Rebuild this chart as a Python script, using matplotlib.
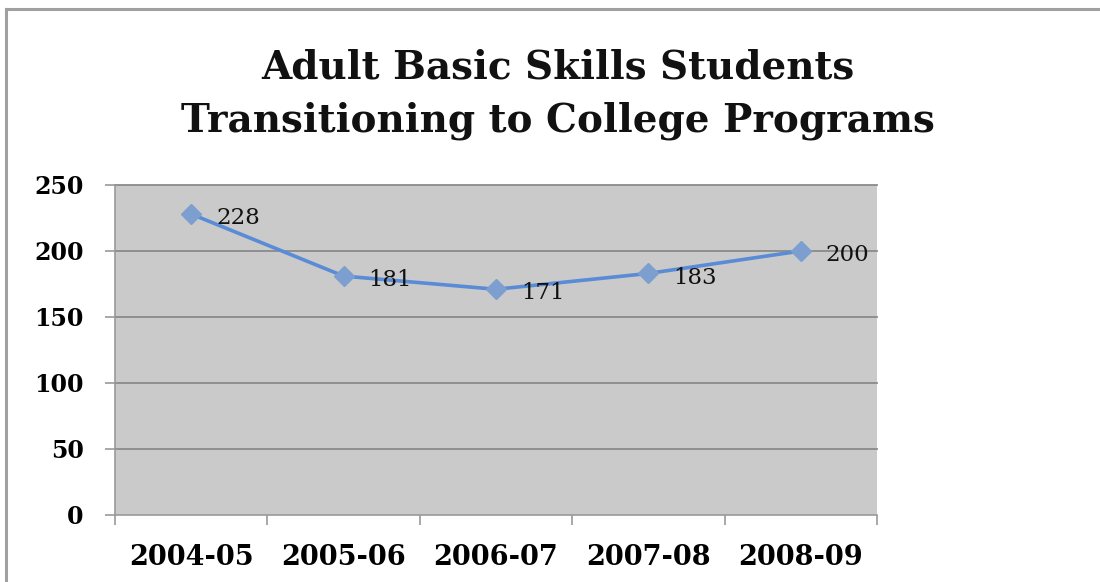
import matplotlib
matplotlib.use("Agg")
import matplotlib.pyplot as plt
from matplotlib.lines import Line2D

categories = ["2004-05", "2005-06", "2006-07", "2007-08", "2008-09"]
values = [228, 181, 171, 183, 200]
yticks = [0, 50, 100, 150, 200, 250]
title = "Adult Basic Skills Students\nTransitioning to College Programs"

W, H = 1100, 582
fig = plt.figure(figsize=(W / 100, H / 100), dpi=100)
fig.patch.set_facecolor("white")

# outer chart frame (top and left edges visible)
fig.add_artist(Line2D([6 / W, 6 / W], [0, 1 - 9 / H], color="#a0a0a0", lw=2.2, transform=fig.transFigure))
fig.add_artist(Line2D([6 / W, 1], [1 - 9 / H, 1 - 9 / H], color="#a0a0a0", lw=2.2, transform=fig.transFigure))

L, R, T, B = 115, 877, 185, 515
ax = fig.add_axes([L / W, 1 - B / H, (R - L) / W, (B - T) / H])
ax.set_facecolor("#cacaca")

x = list(range(len(categories)))
ax.set_xlim(-0.5, len(categories) - 0.5)
ax.set_ylim(0, 250)

for yv in yticks[1:]:
    ax.axhline(yv, color="#8a8a8a", lw=1.3, zorder=1, clip_on=False)

ax.plot(x, values, color="#5a8bd6", lw=2.6, marker="D", markersize=10,
        markerfacecolor="#7c9fd0", markeredgecolor="#7c9fd0", zorder=3)

for xi, v in zip(x, values):
    ax.annotate(str(v), (xi, v), xytext=(18, -3), textcoords="offset points",
                ha="left", va="center", fontsize=16.5, family="DejaVu Serif", color="#111111", zorder=4)

ax.set_yticks(yticks)
ax.set_yticklabels([str(t) for t in yticks], fontsize=17, fontweight="bold", family="DejaVu Serif")
ax.set_xticks(x)
ax.set_xticklabels(categories, fontsize=19.5, fontweight="bold", family="DejaVu Serif")
ax.set_xticks([i - 0.5 for i in range(len(categories) + 1)], minor=True)
ax.tick_params(axis="x", which="major", length=0, pad=21)
ax.tick_params(axis="x", which="minor", length=7, width=1.2, color="#999999", direction="out")
ax.tick_params(axis="y", length=7, width=1.2, color="#999999", pad=15.5)

for s in ["top", "right"]:
    ax.spines[s].set_visible(False)
for s in ["left", "bottom"]:
    ax.spines[s].set_color("#999999")
    ax.spines[s].set_linewidth(1.2)

fig.text(558 / W, 1 - 94 / H, title, ha="center", va="center", fontsize=28,
         fontweight="bold", family="DejaVu Serif", linespacing=1.5, color="#111111")

fig.savefig("out.png", dpi=100, facecolor="white")
